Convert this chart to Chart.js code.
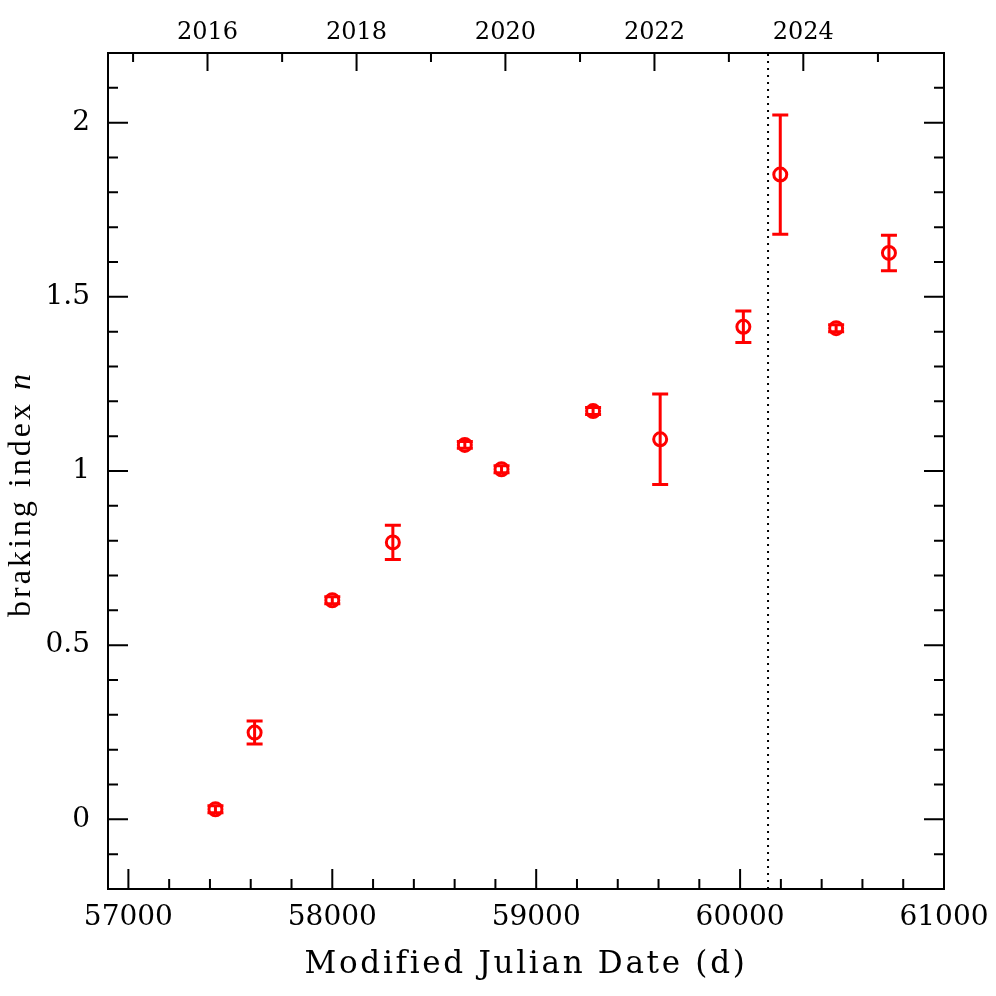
<!DOCTYPE html>
<html>
<head>
<meta charset="utf-8">
<script src="https://cdn.jsdelivr.net/npm/chart.js@4"></script>
<style>
  html, body { margin: 0; padding: 0; background: #fff; }
  canvas { display: block; }
</style>
</head>
<body>
<canvas id="chart" width="996" height="996"></canvas>
<script>
// Measurements: epoch (MJD), braking index and its 1-sigma error
const mjd = [57427, 57619, 58000, 58297, 58650, 58830, 59279, 59608, 60016, 60197, 60471, 60730];
const brakingIndex = [0.029, 0.249, 0.629, 0.795, 1.075, 1.005, 1.172, 1.091, 1.414, 1.851, 1.410, 1.626];
const brakingErr = [0.010, 0.033, 0.010, 0.049, 0.010, 0.010, 0.010, 0.130, 0.045, 0.171, 0.010, 0.051];

// dotted vertical marker
const glitchMjd = 60137;

// tick labels
const xTicks = [57000, 58000, 59000, 60000, 61000];
const yTicks = [0, 0.5, 1, 1.5, 2];
const yearTicks = [2016, 2018, 2020, 2022, 2024];

const xTitle = "Modified Julian Date (d)";
const yTitle = "braking index ";
const yTitleVar = "n";

function yearToMjd(year) {
    return Date.UTC(year, 0, 1) / 86400000 + 40587;
}

const tickFont = { family: "DejaVu Serif", size: 28 };

// ticks pointing into the plot on all four sides
const frameTicks = {
    id: "frameTicks",
    afterDraw(chart) {
        const { ctx, chartArea: a, scales } = chart;
        ctx.save();
        ctx.strokeStyle = "#000";
        ctx.lineWidth = 2;
        ctx.beginPath();
        for (let v = 57000; v <= 61000; v += 200) {
            const px = scales.x.getPixelForValue(v);
            const len = v % 1000 === 0 ? 20 : 10;
            ctx.moveTo(px, a.bottom);
            ctx.lineTo(px, a.bottom - len);
        }
        for (let yr = 2015; yr <= 2025; yr++) {
            const px = scales.x.getPixelForValue(yearToMjd(yr));
            const len = yr % 2 === 0 ? 18 : 9;
            ctx.moveTo(px, a.top);
            ctx.lineTo(px, a.top + len);
        }
        for (let i = -1; i <= 21; i++) {
            const py = scales.y.getPixelForValue(i / 10);
            const len = i % 5 === 0 ? 20 : 10;
            ctx.moveTo(a.left, py);
            ctx.lineTo(a.left + len, py);
            ctx.moveTo(a.right, py);
            ctx.lineTo(a.right - len, py);
        }
        ctx.stroke();
        ctx.restore();
    }
};

// vertical error bars with caps
const errorBars = {
    id: "errorBars",
    afterDatasetsDraw(chart) {
        const { ctx, scales: { x, y } } = chart;
        ctx.save();
        ctx.strokeStyle = "#ff0000";
        ctx.lineWidth = 3;
        ctx.beginPath();
        mjd.forEach((m, i) => {
            const px = x.getPixelForValue(m);
            const top = y.getPixelForValue(brakingIndex[i] + brakingErr[i]);
            const bot = y.getPixelForValue(brakingIndex[i] - brakingErr[i]);
            ctx.moveTo(px, top);
            ctx.lineTo(px, bot);
            ctx.moveTo(px - 8, top);
            ctx.lineTo(px + 8, top);
            ctx.moveTo(px - 8, bot);
            ctx.lineTo(px + 8, bot);
        });
        ctx.stroke();
        ctx.restore();
    }
};

// axis titles (spaced letters, italic n)
const axisTitles = {
    id: "axisTitles",
    afterDraw(chart) {
        const { ctx, chartArea: a } = chart;
        ctx.save();
        ctx.fillStyle = "#000";
        ctx.textBaseline = "alphabetic";
        ctx.textAlign = "center";
        ctx.font = '31px "DejaVu Serif"';
        ctx.letterSpacing = "2.7px";
        ctx.fillText(xTitle, (a.left + a.right) / 2, 973);

        ctx.translate(30, 494);
        ctx.rotate(-Math.PI / 2);
        ctx.letterSpacing = "3px";
        ctx.textAlign = "left";
        ctx.font = '32px "Liberation Serif"';
        const w1 = ctx.measureText(yTitle).width;
        ctx.font = 'italic 32px "Liberation Serif"';
        const w2 = ctx.measureText(yTitleVar).width;
        const sx = -(w1 + w2) / 2;
        ctx.font = '32px "Liberation Serif"';
        ctx.fillText(yTitle, sx, 0);
        ctx.font = 'italic 32px "Liberation Serif"';
        ctx.fillText(yTitleVar, sx + w1, 0);
        ctx.restore();
    }
};

const frame = { display: true, color: "#000", width: 2 };
const noGrid = { display: false, drawTicks: false };

function fitX(height) {
    return (s) => {
        s.height = height;
        s.paddingLeft = 0;
        s.paddingRight = 0;
    };
}

new Chart(document.getElementById("chart"), {
    type: "scatter",
    data: {
        datasets: [{
            data: mjd.map((m, i) => ({ x: m, y: brakingIndex[i] })),
            borderColor: "#ff0000",
            backgroundColor: "rgba(0,0,0,0)",
            pointRadius: 6.5,
            pointBorderWidth: 3,
            showLine: false
        }, {
            type: "line",
            data: [{ x: glitchMjd, y: -0.2 }, { x: glitchMjd, y: 2.2 }],
            borderColor: "#000",
            borderWidth: 2,
            borderDash: [2, 5],
            pointRadius: 0,
            showLine: true
        }]
    },
    options: {
        responsive: false,
        animation: false,
        layout: { padding: 0 },
        plugins: {
            legend: { display: false },
            tooltip: { enabled: false }
        },
        scales: {
            x: {
                type: "linear",
                position: "bottom",
                min: 56900,
                max: 61000,
                afterBuildTicks: (s) => { s.ticks = xTicks.map(v => ({ value: v })); },
                afterFit: fitX(107),
                ticks: { callback: (v) => String(v), font: tickFont, color: "#000", padding: 12, maxRotation: 0, autoSkip: false },
                grid: noGrid,
                border: frame
            },
            x2: {
                type: "linear",
                position: "top",
                min: 56900,
                max: 61000,
                afterBuildTicks: (s) => { s.ticks = yearTicks.map(yr => ({ value: yearToMjd(yr) })); },
                afterFit: fitX(53),
                ticks: { callback: (v, i) => String(yearTicks[i]), font: { family: "DejaVu Serif", size: 24 }, color: "#000", padding: 6, maxRotation: 0, autoSkip: false },
                grid: noGrid,
                border: frame
            },
            y: {
                type: "linear",
                position: "left",
                min: -0.2,
                max: 2.2,
                afterBuildTicks: (s) => { s.ticks = yTicks.map(v => ({ value: v })); },
                afterFit: (s) => { s.width = 108; },
                ticks: { callback: (v) => String(v), font: tickFont, color: "#000", padding: 18 },
                grid: noGrid,
                border: frame
            },
            y2: {
                type: "linear",
                position: "right",
                min: -0.2,
                max: 2.2,
                afterFit: (s) => { s.width = 52; },
                ticks: { display: false },
                grid: noGrid,
                border: frame
            }
        }
    },
    plugins: [frameTicks, errorBars, axisTitles]
});
</script>
</body>
</html>
